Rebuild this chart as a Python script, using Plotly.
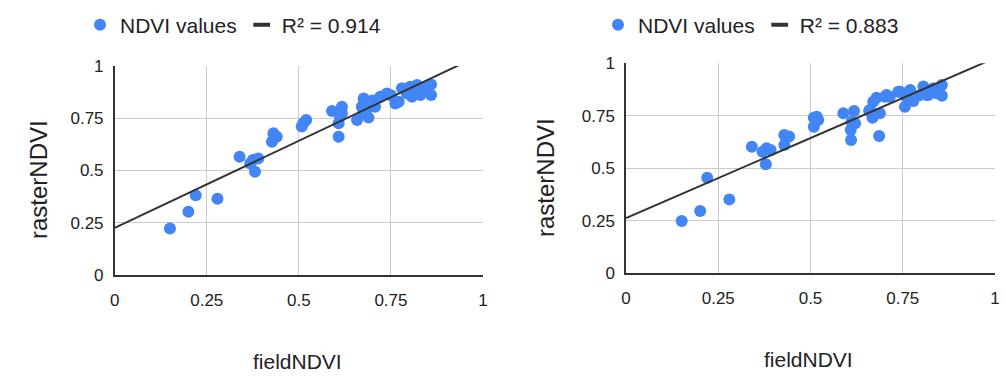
import numpy as np
import plotly.graph_objects as go

# ---- data ----
left_field = [0.150, 0.200, 0.220, 0.279, 0.339, 0.368, 0.375, 0.381, 0.390, 0.427,
              0.431, 0.440, 0.508, 0.512, 0.520, 0.590, 0.608, 0.608, 0.612, 0.617,
              0.617, 0.658, 0.671, 0.676, 0.685, 0.689, 0.694, 0.707, 0.721, 0.739,
              0.762, 0.771, 0.780, 0.793, 0.802, 0.807, 0.821, 0.830, 0.848, 0.859,
              0.859, 0.680, 0.700, 0.750, 0.815, 0.840, 0.790, 0.675]
left_raster = [0.223, 0.303, 0.381, 0.365, 0.566, 0.534, 0.550, 0.494, 0.558, 0.638,
               0.678, 0.662, 0.710, 0.726, 0.742, 0.785, 0.726, 0.662, 0.757, 0.805,
               0.774, 0.742, 0.805, 0.845, 0.797, 0.753, 0.821, 0.805, 0.853, 0.869,
               0.821, 0.829, 0.893, 0.869, 0.901, 0.853, 0.909, 0.861, 0.901, 0.912,
               0.861, 0.830, 0.835, 0.860, 0.880, 0.890, 0.885, 0.780]

right_field = [0.151, 0.201, 0.220, 0.280, 0.341, 0.370, 0.379, 0.381, 0.392, 0.429,
               0.429, 0.442, 0.509, 0.509, 0.521, 0.517, 0.589, 0.610, 0.609, 0.611,
               0.621, 0.618, 0.659, 0.668, 0.686, 0.688, 0.670, 0.679, 0.702, 0.715,
               0.738, 0.756, 0.759, 0.770, 0.779, 0.797, 0.806, 0.819, 0.833, 0.856,
               0.856, 0.842, 0.706, 0.743, 0.815, 0.661]
right_raster = [0.249, 0.297, 0.455, 0.352, 0.603, 0.579, 0.519, 0.595, 0.587, 0.611,
                0.659, 0.651, 0.698, 0.741, 0.730, 0.746, 0.762, 0.635, 0.682, 0.722,
                0.714, 0.773, 0.774, 0.741, 0.654, 0.762, 0.817, 0.836, 0.841, 0.841,
                0.865, 0.793, 0.841, 0.873, 0.820, 0.849, 0.889, 0.849, 0.881, 0.897,
                0.846, 0.857, 0.849, 0.865, 0.849, 0.778]

r2_labels = ["R² = 0.914", "R² = 0.883"]
point_label = "NDVI values"
tick_vals = [0, 0.25, 0.5, 0.75, 1]
tick_text = ["0", "0.25", "0.5", "0.75", "1"]
x_title = "fieldNDVI"
y_title = "rasterNDVI"

BLUE = "#4285F4"
LINE = "#333333"
FONT = "Arial"
TXT = "#222222"

W, H = 1006, 378
fig = go.Figure()

panels = [
    dict(xs=left_field, ys=left_raster, xa="x", ya="y", legend="legend", r2=r2_labels[0]),
    dict(xs=right_field, ys=right_raster, xa="x2", ya="y2", legend="legend2", r2=r2_labels[1]),
]

for p in panels:
    xs = np.array(p["xs"])
    ys = np.array(p["ys"])
    slope, intercept = np.polyfit(xs, ys, 1)
    fig.add_trace(go.Scatter(
        x=xs, y=ys, mode="markers", name=point_label,
        marker=dict(color=BLUE, size=12, line=dict(width=0)),
        xaxis=p["xa"], yaxis=p["ya"], legend=p["legend"]))
    lx = np.array([0.0, 1.0])
    fig.add_trace(go.Scatter(
        x=lx, y=intercept + slope * lx, mode="lines", showlegend=False,
        line=dict(color=LINE, width=2),
        xaxis=p["xa"], yaxis=p["ya"]))
    # legend entry for the trendline (short dash symbol)
    fig.add_trace(go.Scatter(
        x=[None], y=[None], mode="markers", name=p["r2"],
        marker=dict(symbol="line-ew", size=12, color=LINE,
                    line=dict(color=LINE, width=4)),
        xaxis=p["xa"], yaxis=p["ya"], legend=p["legend"]))

def ax_common():
    return dict(range=[0, 1], tickvals=tick_vals, ticktext=tick_text,
                showgrid=True, gridcolor="#cccccc", gridwidth=1,
                zeroline=False, showline=True, linecolor=LINE, linewidth=1.5,
                tickfont=dict(family=FONT, size=17, color=TXT),
                automargin=False, fixedrange=True)

L = (114.7, 483.0, 66.0, 275.0)
R = (626.0, 995.0, 63.3, 273.3)

def dom_x(a, b):
    return [a / W, b / W]

def dom_y(top, bot):
    return [(H - bot) / H, (H - top) / H]

fig.update_layout(
    width=W, height=H, margin=dict(l=0, r=0, t=0, b=0, autoexpand=False),
    paper_bgcolor="white", plot_bgcolor="white",
    showlegend=True,
    xaxis=dict(domain=dom_x(L[0], L[1]), anchor="y", ticklabelstandoff=9, **ax_common()),
    yaxis=dict(domain=dom_y(L[2], L[3]), anchor="x", ticklabelstandoff=6, **ax_common()),
    xaxis2=dict(domain=dom_x(R[0], R[1]), anchor="y2", ticklabelstandoff=9, **ax_common()),
    yaxis2=dict(domain=dom_y(R[2], R[3]), anchor="x2", ticklabelstandoff=6, **ax_common()),
    legend=dict(orientation="h", x=80 / W, xanchor="left", y=1 - 25 / H, yanchor="middle",
                font=dict(family=FONT, size=21, color=TXT),
                bgcolor="rgba(0,0,0,0)", itemwidth=30),
    legend2=dict(orientation="h", x=598 / W, xanchor="left", y=1 - 25 / H, yanchor="middle",
                 font=dict(family=FONT, size=21, color=TXT),
                 bgcolor="rgba(0,0,0,0)", itemwidth=30),
)

# axis titles
for cx, cy in [(297, 361), (808, 359)]:
    fig.add_annotation(text=x_title, x=cx / W, y=1 - cy / H, xref="paper", yref="paper",
                       showarrow=False, xanchor="center", yanchor="middle",
                       font=dict(family=FONT, size=21, color=TXT))
for cx, cy in [(38, 180), (545, 178)]:
    fig.add_annotation(text=y_title, x=cx / W, y=1 - cy / H, xref="paper", yref="paper",
                       showarrow=False, xanchor="center", yanchor="middle", textangle=-90,
                       font=dict(family=FONT, size=24, color=TXT))

fig.write_html("out.html")
